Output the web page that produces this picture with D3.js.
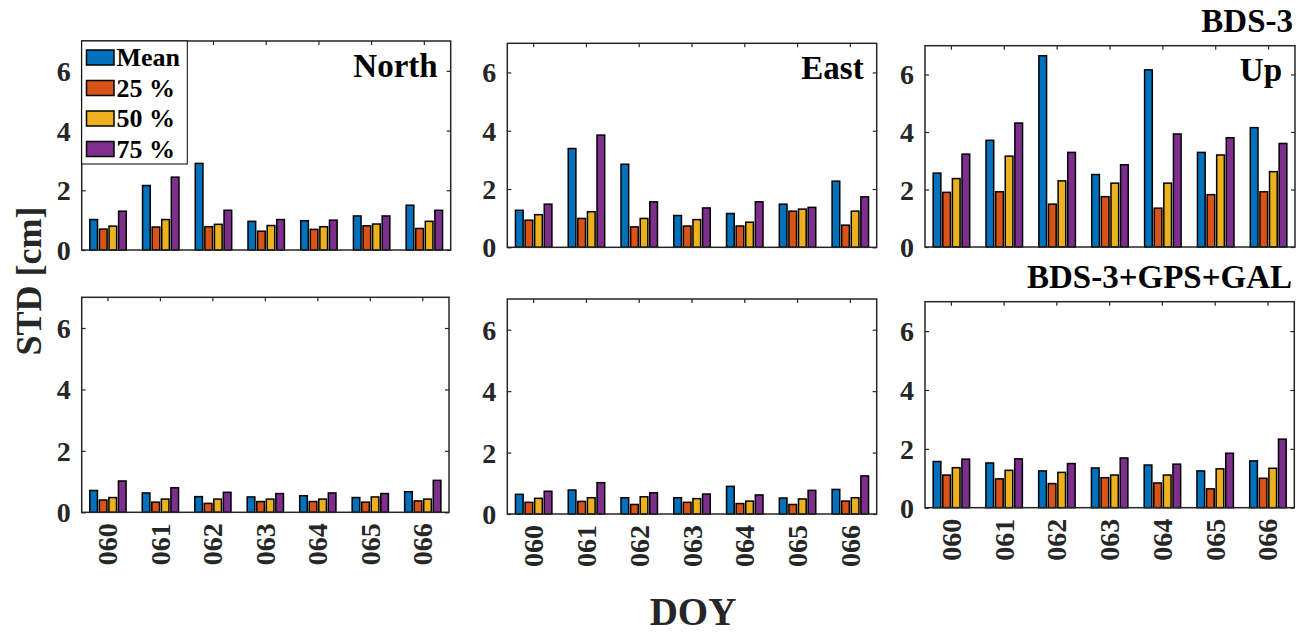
<!DOCTYPE html>
<html>
<head>
<meta charset="utf-8">
<script src="https://cdn.jsdelivr.net/npm/d3@7"></script>
<style>
  html, body { margin: 0; padding: 0; background: #fff; }
  svg { display: block; font-family: "Liberation Serif", "Times New Roman", serif; font-weight: bold; }
</style>
</head>
<body>
<svg id="chart" width="1307" height="634"></svg>
<script>
// ---------------- data ----------------
const days = ["060", "061", "062", "063", "064", "065", "066"];
const seriesNames = ["Mean", "25 %", "50 %", "75 %"];
const yTicks = [0, 2, 4, 6];

// BDS-3 (top row): rows = series (Mean, 25%, 50%, 75%), columns = days
const bdsNorth = [
  [1.02, 2.16, 2.90, 0.96, 0.98, 1.14, 1.50],
  [0.70, 0.77, 0.78, 0.63, 0.69, 0.81, 0.72],
  [0.80, 1.02, 0.86, 0.82, 0.78, 0.87, 0.96],
  [1.30, 2.44, 1.33, 1.02, 1.00, 1.14, 1.33]
];
const bdsEast = [
  [1.27, 3.39, 2.85, 1.09, 1.16, 1.48, 2.27],
  [0.93, 0.99, 0.70, 0.73, 0.73, 1.24, 0.76],
  [1.12, 1.22, 0.99, 0.95, 0.86, 1.31, 1.24],
  [1.48, 3.85, 1.56, 1.35, 1.56, 1.37, 1.73]
];
const bdsUp = [
  [2.57, 3.71, 6.65, 2.52, 6.16, 3.29, 4.15],
  [1.90, 1.92, 1.49, 1.75, 1.35, 1.82, 1.92],
  [2.38, 3.16, 2.30, 2.22, 2.22, 3.20, 2.62],
  [3.23, 4.31, 3.29, 2.86, 3.93, 3.80, 3.60]
];
// BDS-3+GPS+GAL (bottom row)
const mixNorth = [
  [0.71, 0.63, 0.51, 0.50, 0.54, 0.48, 0.67],
  [0.40, 0.33, 0.29, 0.35, 0.35, 0.33, 0.37],
  [0.48, 0.43, 0.43, 0.43, 0.43, 0.50, 0.43],
  [1.02, 0.80, 0.65, 0.61, 0.63, 0.61, 1.04]
];
const mixEast = [
  [0.64, 0.78, 0.53, 0.53, 0.90, 0.52, 0.80],
  [0.38, 0.41, 0.31, 0.38, 0.34, 0.31, 0.42],
  [0.51, 0.53, 0.56, 0.50, 0.42, 0.49, 0.53],
  [0.74, 1.02, 0.69, 0.65, 0.62, 0.77, 1.24]
];
const mixUp = [
  [1.57, 1.52, 1.25, 1.35, 1.45, 1.25, 1.59],
  [1.11, 0.98, 0.82, 1.02, 0.84, 0.64, 1.00],
  [1.36, 1.27, 1.20, 1.11, 1.11, 1.32, 1.34],
  [1.65, 1.66, 1.50, 1.69, 1.48, 1.85, 2.33]
];

const panelTitles = ["North", "East", "Up", "", "", ""];
const panelData = [bdsNorth, bdsEast, bdsUp, mixNorth, mixEast, mixUp];

// ---------------- layout ----------------
const colors = ["#0072BD", "#D95319", "#EDB120", "#7E2F8E"];
const boxes = [
  { x0: 81.7,  x1: 450.7, y0: 41,    y1: 250 },
  { x0: 507.3, x1: 876.7, y0: 43.3,  y1: 247.3 },
  { x0: 925,   x1: 1295,  y0: 45.7,  y1: 247 },
  { x0: 81.7,  x1: 449,   y0: 297.3, y1: 512.3 },
  { x0: 507.3, x1: 876.7, y0: 299,   y1: 514 },
  { x0: 925,   x1: 1294.3, y0: 301.7, y1: 507.7 }
];
const axisColor = "#262626";
const svg = d3.select("#chart");

panelData.forEach((data, p) => {
  const b = boxes[p];
  const g = svg.append("g");
  const x = d3.scaleBand().domain(days).range([b.x0, b.x1]).paddingInner(0).paddingOuter(0);
  const step = x.bandwidth();
  const gw = Math.min(0.8, 4 / 5.5) * step;
  const xs = d3.scaleBand().domain(seriesNames).range([-gw / 2, gw / 2]);
  const bw = xs.bandwidth() * 0.8;
  const y = d3.scaleLinear().domain([0, 7]).range([b.y1, b.y0]);

  // bars
  seriesNames.forEach((s, si) => {
    g.append("g").selectAll("rect")
      .data(data[si].map((v, di) => ({ day: days[di], v })))
      .join("rect")
      .attr("x", d => x(d.day) + step / 2 + xs(s) + xs.bandwidth() / 2 - bw / 2)
      .attr("width", bw)
      .attr("y", d => y(d.v))
      .attr("height", d => y(0) - y(d.v))
      .attr("fill", colors[si])
      .attr("stroke", "#000")
      .attr("stroke-width", 1.5);
  });

  // y axis left (inner ticks) and right
  const yAxisL = d3.axisLeft(y).tickValues(yTicks).tickSize(-4).tickPadding(11).tickFormat(d3.format("d"));
  const gl = g.append("g").attr("transform", `translate(${b.x0},0)`).call(yAxisL);
  const yAxisR = d3.axisRight(y).tickValues(yTicks).tickSize(-4).tickFormat("");
  const gr = g.append("g").attr("transform", `translate(${b.x1},0)`).call(yAxisR);
  // x ticks top
  const xAxisT = d3.axisTop(x).tickSize(-4).tickFormat("");
  const gt = g.append("g").attr("transform", `translate(0,${b.y0})`).call(xAxisT);
  [gl, gr, gt].forEach(a => {
    a.select(".domain").remove();
    a.selectAll(".tick line").attr("stroke", axisColor).attr("stroke-width", 1.2);
  });
  gl.selectAll(".tick text")
    .attr("fill", axisColor)
    .style("font-size", "28px")
    .style("font-weight", "bold")
    .style("font-family", "Liberation Serif, serif")
    .attr("dy", "0.34em");

  if (p >= 3) {
    const xAxisB = d3.axisBottom(x).tickSize(0).tickPadding(0);
    const gb = g.append("g").attr("transform", `translate(0,${b.y1})`).call(xAxisB);
    gb.select(".domain").remove();
    gb.selectAll(".tick text")
      .attr("fill", axisColor)
      .style("font-size", "28px")
      .style("font-weight", "bold")
      .style("font-family", "Liberation Serif, serif")
      .attr("text-anchor", "end")
      .attr("dy", null)
      .attr("y", 0)
      .attr("transform", "translate(0,11) rotate(-90)")
      .attr("dominant-baseline", "central");
  }

  // box
  g.append("rect")
    .attr("x", b.x0).attr("y", b.y0)
    .attr("width", b.x1 - b.x0).attr("height", b.y1 - b.y0)
    .attr("fill", "none").attr("stroke", axisColor).attr("stroke-width", 1.5);

  if (panelTitles[p]) {
    g.append("text")
      .attr("x", b.x1 - 13).attr("y", b.y0 + 35.5)
      .attr("text-anchor", "end")
      .style("font-size", "33px")
      .attr("fill", "#000")
      .text(panelTitles[p]);
  }

  // legend in first panel
  if (p === 0) {
    const lg = g.append("g");
    lg.append("rect")
      .attr("x", b.x0).attr("y", b.y0)
      .attr("width", 105.6).attr("height", 123)
      .attr("fill", "#fff").attr("stroke", "#000").attr("stroke-width", 1);
    seriesNames.forEach((s, si) => {
      const cy = 57.5 + si * 30.5;
      lg.append("rect")
        .attr("x", 86.5).attr("y", cy - 7.5)
        .attr("width", 27.5).attr("height", 15)
        .attr("fill", colors[si]).attr("stroke", "#000").attr("stroke-width", 1.5);
      lg.append("text")
        .attr("x", 116.5).attr("y", cy)
        .attr("dominant-baseline", "central")
        .style("font-size", "26px")
        .attr("fill", "#000")
        .text(s);
    });
  }
});

// group titles
svg.append("text").attr("x", 1293).attr("y", 31.5).attr("text-anchor", "end")
  .style("font-size", "33px").attr("fill", "#000").text("BDS-3");
svg.append("text").attr("x", 1292).attr("y", 288).attr("text-anchor", "end")
  .style("font-size", "33px").attr("fill", "#000").text("BDS-3+GPS+GAL");

// axis titles
svg.append("text")
  .attr("transform", "translate(41,281) rotate(-90)")
  .attr("text-anchor", "middle")
  .style("font-size", "36px").attr("fill", axisColor)
  .text("STD [cm]");
svg.append("text")
  .attr("x", 693).attr("y", 625)
  .attr("text-anchor", "middle")
  .style("font-size", "39px").attr("fill", axisColor)
  .text("DOY");
</script>
</body>
</html>
